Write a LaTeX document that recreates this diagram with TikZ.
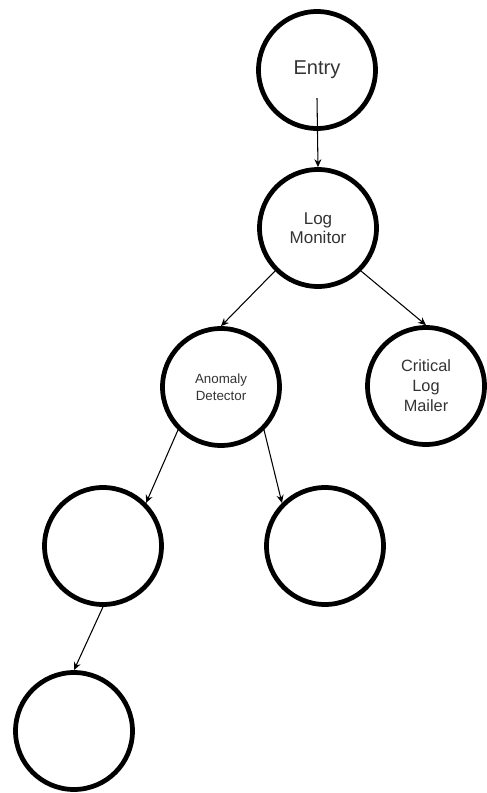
\documentclass[tikz,border=0pt]{standalone}
\usepackage{fontspec}
\setmainfont{Liberation Sans}
\usetikzlibrary{arrows.meta, positioning}
\tikzset{
    state/.style={circle, draw, line width=0.095cm, minimum size=2.34cm, inner sep=0pt, align=center, text=black!80},
    line/.style={draw, -{Stealth[length=4.5pt, width=4pt]}, line width=0.6pt},
}
\begin{document}
\begin{tikzpicture}[x=0.02cm, y=-0.02cm]

    \useasboundingbox (0,0) rectangle (486,793);

    % Top of the tree
    \node[state, font=\fontsize{11.4}{13}\selectfont] (entry) at (317, 70) {Entry};
    \node[state, font=\fontsize{9.7}{10.6}\selectfont] (logmon) at (318, 228) {Log\\Monitor};

    % Second level
    \node[state, font=\fontsize{7.6}{9.5}\selectfont] (anomaly) at (221, 387) {Anomaly\\Detector};
    \node[state, font=\fontsize{9.3}{11.3}\selectfont] (mailer) at (426, 386) {Critical\\Log\\Mailer};

    % Empty leaves
    \node[state] (leafa) at (103, 546) {};
    \node[state] (leafb) at (325, 546) {};
    \node[state] (leafc) at (74, 731) {};

    % Connectors
    \path[line] ([yshift=-16pt]entry.center) -- (logmon.north);
    \path[line] (logmon.south west) -- (anomaly.north);
    \path[line] (logmon.south east) -- (mailer.north);
    \path[line] (anomaly.south west) -- (leafa.north east);
    \path[line] (anomaly.south east) -- (leafb.north west);
    \path[line] (leafa.south) -- (leafc.north);

\end{tikzpicture}
\end{document}
